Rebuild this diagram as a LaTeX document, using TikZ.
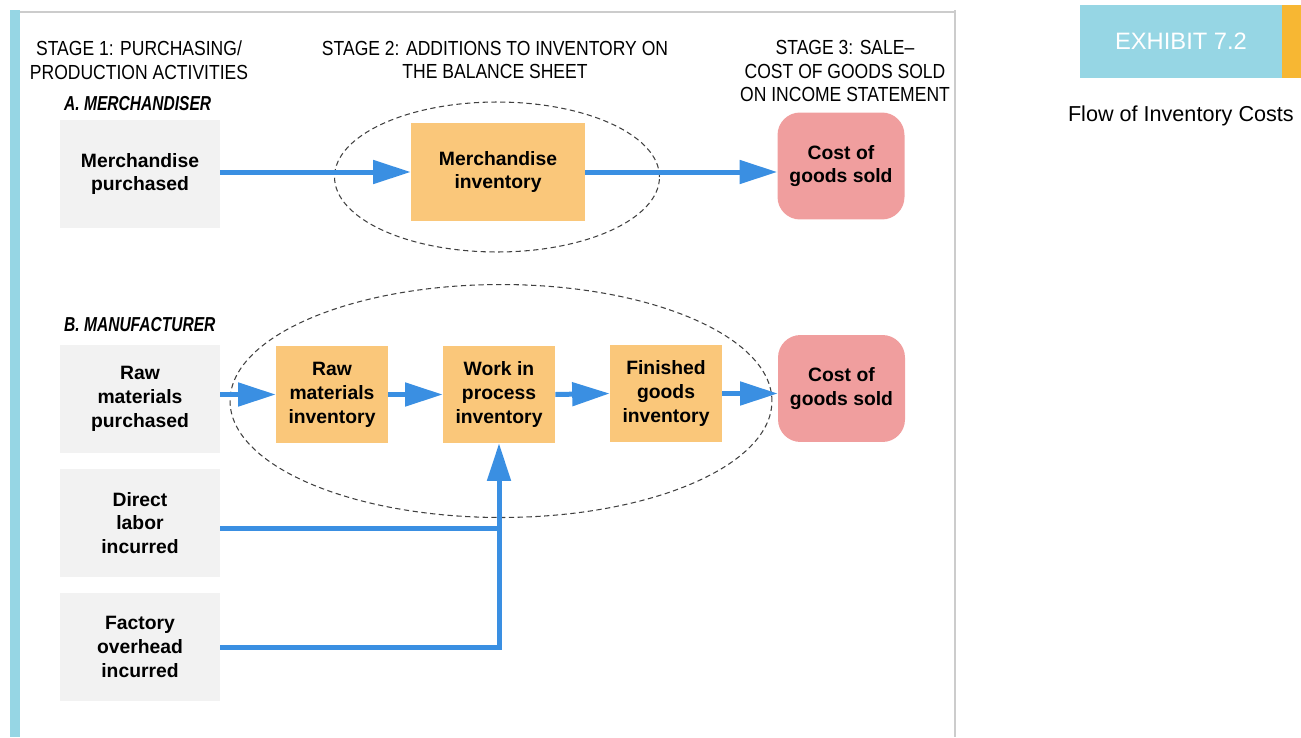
\documentclass[tikz,border=0pt]{standalone}
\usepackage{fontspec}
\setmainfont{Liberation Sans}
\newfontfamily\headfont[FakeStretch=0.86]{Liberation Sans}
\newfontfamily\partfont[FakeStretch=0.77]{Liberation Sans}
\usetikzlibrary{shapes.geometric}
\usetikzlibrary{arrows.meta}

\definecolor{flowblue}{RGB}{58,143,226}
\definecolor{invorange}{RGB}{250,199,122}
\definecolor{cogspink}{RGB}{240,158,158}
\definecolor{srcgray}{RGB}{242,242,242}
\definecolor{barcyan}{RGB}{150,214,228}
\definecolor{tagorange}{RGB}{247,183,51}

\tikzset{
  srcbox/.style={rectangle, fill=srcgray, minimum width=3.2cm, minimum height=2.15cm, align=center, font=\fontsize{11}{13.6}\selectfont\bfseries},
  invbox/.style={rectangle, fill=invorange, minimum width=2.24cm, minimum height=1.94cm, align=center, font=\fontsize{11}{13.6}\selectfont\bfseries},
  cogsbox/.style={rectangle, rounded corners=0.45cm, fill=cogspink, minimum width=2.54cm, minimum height=2.14cm, align=center, font=\fontsize{11}{13.2}\selectfont\bfseries},
  stagehead/.style={align=center, font=\headfont\fontsize{11.6}{13.6}\selectfont},
  parthead/.style={anchor=west, font=\partfont\fontsize{11.5}{13.6}\selectfont\bfseries\itshape},
  groupring/.style={ellipse, draw=black!75, line width=0.6pt, dash pattern=on 3pt off 2pt},
  flow/.style={draw=flowblue, line width=0.1cm, -{Triangle[length=0.75cm,width=0.46cm]}},
  flowline/.style={draw=flowblue, line width=0.1cm}
}

\begin{document}
\begin{tikzpicture}[x=0.02cm, y=-0.02cm]
    \useasboundingbox (0,0) rectangle (1301,737);

    % page frame
    \fill[barcyan] (10,10) rectangle (20,737);
    \draw[black!20, line width=0.6pt] (20,12) -- (955,12);
    \draw[black!20, line width=0.6pt] (955,10) -- (955,737);

    % exhibit tag
    \node[rectangle, fill=barcyan, minimum width=4.04cm, minimum height=1.46cm, text=white, font=\fontsize{13.5}{16}\selectfont] (tag) at (1181,41.5) {EXHIBIT 7.2};
    \fill[tagorange] (1282,5) rectangle (1301,78);
    \node[anchor=east, font=\fontsize{12.3}{15}\selectfont] (title) at (1300,116) {Flow of Inventory Costs};

    % stage headings
    \node[stagehead] (stage1) at (139,60) {STAGE 1: PURCHASING/\\PRODUCTION ACTIVITIES};
    \node[stagehead] (stage2) at (495,60) {STAGE 2: ADDITIONS TO INVENTORY ON\\THE BALANCE SHEET};
    \node[stagehead] (stage3) at (845,71) {STAGE 3: SALE–\\COST OF GOODS SOLD\\ON INCOME STATEMENT};

    % A. merchandiser
    \node[parthead] (partA) at (58,104) {A. MERCHANDISER};
    \node[groupring, minimum width=6.5cm, minimum height=3.0cm] (ringA) at (497,177) {};
    \node[srcbox] (mpur) at (140,174) {Merchandise\\purchased};
    \node[invbox, minimum width=3.48cm, minimum height=1.98cm] (minv) at (498,172) {Merchandise\\inventory};
    \node[cogsbox] (cogsA) at (841,166) {Cost of\\goods sold};
    \draw[flow] (mpur.east |- minv.west) -- (minv.west);
    \draw[flow] (minv.east) -- (cogsA.west |- minv.east);

    % B. manufacturer
    \node[parthead] (partB) at (58,325) {B. MANUFACTURER};
    \node[groupring, minimum width=10.84cm, minimum height=4.66cm] (ringB) at (501,401) {};
    \node[srcbox] (rmpur) at (140,399) {Raw\\materials\\purchased};
    \node[srcbox] (dlab) at (140,523) {Direct\\labor\\incurred};
    \node[srcbox] (fohd) at (140,647) {Factory\\overhead\\incurred};
    \node[invbox] (rminv) at (332,394.5) {Raw\\materials\\inventory};
    \node[invbox] (wip) at (499,394.5) {Work in\\process\\inventory};
    \node[invbox] (fginv) at (666,393.5) {Finished\\goods\\inventory};
    \node[cogsbox] (cogsB) at (841.5,388.5) {Cost of\\goods sold};
    \draw[flow] (rmpur.east |- rminv.west) -- (rminv.west);
    \draw[flow] (rminv.east) -- (wip.west);
    \draw[flow] (wip.east) -- (fginv.west);
    \draw[flow] (fginv.east) -- (cogsB.west |- fginv.east);
    \draw[flowline] ([yshift=-0.1cm]dlab.east) -- ([yshift=-0.1cm]dlab.east -| wip.south);
    \draw[flow] (fohd.east) -| (wip.south);
\end{tikzpicture}
\end{document}
